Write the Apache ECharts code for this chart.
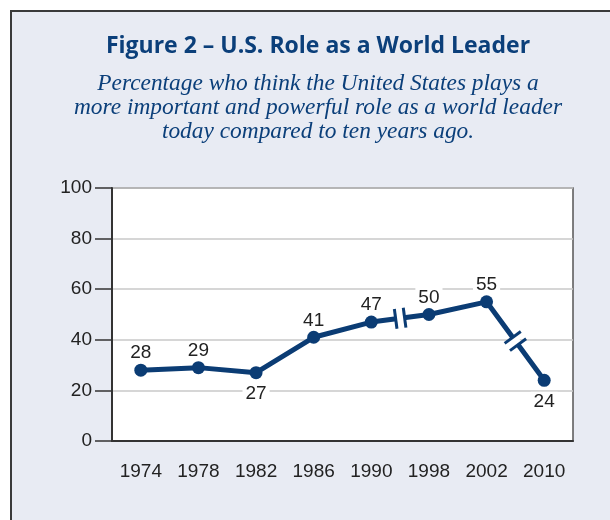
<!DOCTYPE html>
<html>
<head>
<meta charset="utf-8">
<script src="https://cdn.jsdelivr.net/npm/echarts@6/dist/echarts.min.js"></script>
<style>
  html, body { margin: 0; padding: 0; background: #fff; }
  #chart { width: 610px; height: 520px; }
</style>
</head>
<body>
<div id="chart"></div>
<script>
(function(window){
    // data
    let years = ['1974','1978','1982','1986','1990','1998','2002','2010'];
    let values = [28, 29, 27, 41, 47, 50, 55, 24];
    let labelBelow = ['1982', '2010'];
    let yTicks = [0, 20, 40, 60, 80, 100];
    // pairs of points with a break in the time scale between them
    let breakPairs = [[4, 5], [6, 7]];

    let navy = '#0b3c74';
    let textColor = '#222';
    let numFont = '"Liberation Sans", sans-serif';

    function init(){
        let chart = echarts.init(document.getElementById('chart'));

        let lineData = values.map((v, i)=>{
            let below = labelBelow.indexOf(years[i]) >= 0;
            return {
                value: v,
                label: {
                    position: below ? 'bottom' : 'top',
                    distance: below ? 5 : 1
                }
            };
        });

        //break marks: white gap plus two short bars across the line
        function renderBreak(params, api){
            let pair = breakPairs[params.dataIndex];
            let p1 = api.coord([years[pair[0]], values[pair[0]]]);
            let p2 = api.coord([years[pair[1]], values[pair[1]]]);
            let mx = (p1[0] + p2[0]) / 2, my = (p1[1] + p2[1]) / 2;
            let dx = p2[0] - p1[0], dy = p2[1] - p1[1];
            let len = Math.sqrt(dx*dx + dy*dy);
            dx /= len; dy /= len;
            let nx = -dy, ny = dx;
            let g = 4.5, h = 10;
            let bar = (s)=>({
                type: 'line',
                shape: {
                    x1: mx + dx*s*g + nx*h, y1: my + dy*s*g + ny*h,
                    x2: mx + dx*s*g - nx*h, y2: my + dy*s*g - ny*h
                },
                style: { stroke: navy, lineWidth: 3 }
            });
            return {
                type: 'group',
                children: [
                    {
                        type: 'line',
                        shape: { x1: mx - dx*g, y1: my - dy*g, x2: mx + dx*g, y2: my + dy*g },
                        style: { stroke: '#fff', lineWidth: 9 }
                    },
                    bar(-1),
                    bar(1)
                ]
            };
        }

        let option = {
            animation: false,
            graphic: [
                {
                    type: 'rect',
                    z: -10,
                    shape: { x: 11, y: 11, width: 640, height: 560 },
                    style: { fill: '#e8ebf3', stroke: '#3a3a3a', lineWidth: 2 }
                },
                {
                    type: 'text',
                    x: 318,
                    y: 35,
                    style: {
                        text: 'Figure 2 \u2013 U.S. Role as a World Leader',
                        font: 'bold 23px "Open Sans", sans-serif',
                        align: 'center',
                        fill: '#0b3f7a'
                    }
                },
                {
                    type: 'text',
                    x: 318,
                    y: 72,
                    style: {
                        text: 'Percentage who think the United States plays a\nmore important and powerful role as a world leader\ntoday compared to ten years ago.',
                        font: 'italic 23.4px "Liberation Serif", serif',
                        lineHeight: 24,
                        align: 'center',
                        fill: '#0b3f7a'
                    }
                }
            ],
            grid: {
                left: 112,
                top: 188,
                width: 461,
                height: 253,
                show: true,
                backgroundColor: '#fff',
                borderColor: '#555',
                borderWidth: 1.5
            },
            xAxis: {
                type: 'category',
                data: years,
                boundaryGap: true,
                axisLine: { lineStyle: { color: '#333', width: 2 } },
                axisTick: { alignWithLabel: true, interval: 0, length: 18, lineStyle: { color: '#333', width: 1.5 } },
                axisLabel: { interval: 0, margin: 21, color: textColor, fontSize: 19, fontFamily: numFont }
            },
            yAxis: {
                type: 'value',
                min: yTicks[0],
                max: yTicks[yTicks.length-1],
                interval: yTicks[1] - yTicks[0],
                axisLine: { show: true, lineStyle: { color: '#333', width: 2 } },
                axisTick: { show: true, length: 17, lineStyle: { color: '#333', width: 1.5 } },
                axisLabel: { margin: 20, color: textColor, fontSize: 19, fontFamily: numFont },
                splitLine: { lineStyle: { color: '#c9c9c9', width: 1.5 } }
            },
            series: [
                {
                    type: 'line',
                    data: lineData,
                    z: 2,
                    symbol: 'circle',
                    symbolSize: 13,
                    itemStyle: { color: navy },
                    lineStyle: { color: navy, width: 5 },
                    label: {
                        show: true,
                        color: textColor,
                        fontSize: 19,
                        fontFamily: numFont,
                        backgroundColor: '#fff',
                        padding: [0, 3]
                    }
                },
                {
                    type: 'custom',
                    z: 5,
                    silent: true,
                    data: breakPairs.map(p => [years[p[0]], values[p[0]]]),
                    renderItem: renderBreak
                }
            ]
        };
        chart.setOption(option);
    }

    window.onload = ()=>{
        init();
    }
})(window)
</script>
</body>
</html>
